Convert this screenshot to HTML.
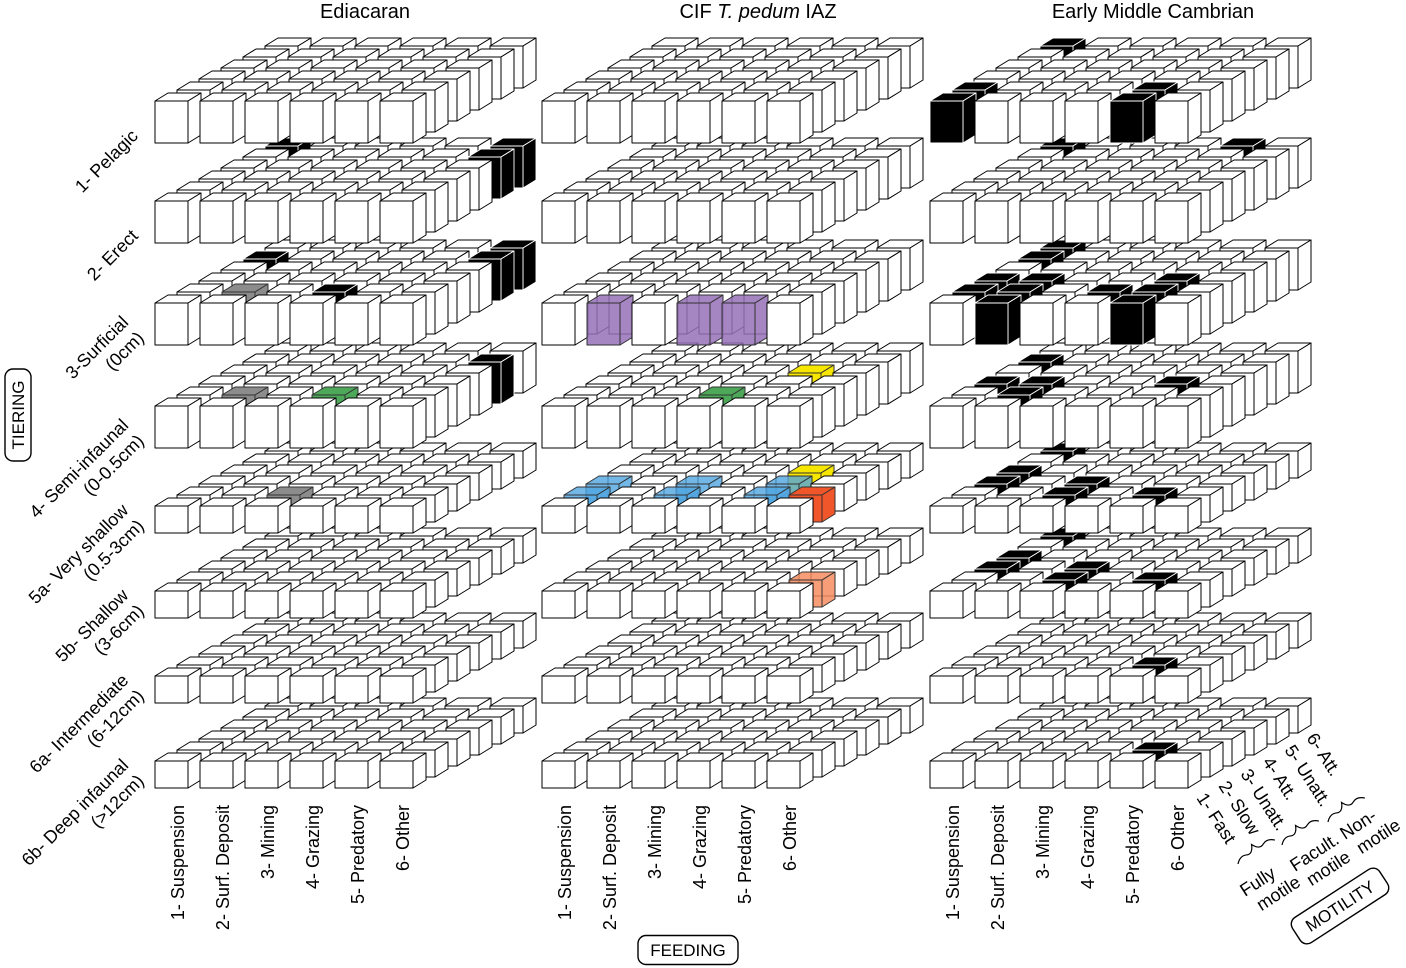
<!DOCTYPE html>
<html><head><meta charset="utf-8"><style>
html,body{margin:0;padding:0;background:#fff;}
svg{display:block;font-family:"Liberation Sans",sans-serif;}
</style></head><body>
<svg id="chart" width="1406" height="968" viewBox="0 0 1406 968" xmlns="http://www.w3.org/2000/svg">
<g id="cubes"></g>
<g id="labels"></g>
</svg>
<script>
const panelTitles = ["Ediacaran", "CIF T. pedum IAZ", "Early Middle Cambrian"];
const tierLabels = [["1- Pelagic"],["2- Erect"],["3-Surficial","(0cm)"],["4- Semi-infaunal","(0-0.5cm)"],["5a- Very shallow","(0.5-3cm)"],["5b- Shallow","(3-6cm)"],["6a- Intermediate","(6-12cm)"],["6b- Deep infaunal","(>12cm)"]];
const feedingLabels = ["1- Suspension","2- Surf. Deposit","3- Mining","4- Grazing","5- Predatory","6- Other"];
const motilityLabels = ["1- Fast","2- Slow","3- Unatt.","4- Att.","5- Unatt.","6- Att."];
// highlighted cells: [tierIndex, feedingIndex, motilityIndex, colour]
const ediacaranCells = [
 [1,0,5,"black"],[1,5,4,"black"],[1,5,5,"black"],
 [2,0,4,"black"],[2,1,1,"gray"],[2,3,1,"black"],[2,5,4,"black"],[2,5,5,"black"],
 [3,1,1,"gray"],[3,3,1,"green"],[3,5,4,"black"],
 [4,2,1,"gray"]];
const cifCells = [
 [2,1,0,"purple"],[2,3,0,"purple"],[2,4,0,"purple"],
 [3,4,3,"yellow"],[3,3,1,"green"],
 [4,0,1,"blue"],[4,0,2,"blue"],[4,2,1,"blue"],[4,2,2,"blue"],[4,4,1,"blue"],[4,4,2,"blue"],[4,4,3,"yellow"],[4,5,1,"red"],
 [5,5,1,"orange"]];
const cambrianCells = [
 [0,0,5,"black"],[0,0,0,"black"],[0,0,1,"black"],[0,4,0,"black"],[0,4,1,"black"],
 [1,0,5,"black"],[1,4,5,"black"],
 [2,0,5,"black"],[2,0,4,"black"],[2,0,2,"black"],[2,0,1,"black"],[2,1,2,"black"],[2,1,1,"black"],[2,1,0,"black"],[2,3,1,"black"],[2,4,1,"black"],[2,4,2,"black"],[2,4,0,"black"],
 [3,0,4,"black"],[3,0,2,"black"],[3,1,2,"black"],[3,1,1,"black"],[3,4,2,"black"],
 [4,0,5,"black"],[4,0,3,"black"],[4,0,2,"black"],[4,2,2,"black"],[4,2,1,"black"],[4,4,1,"black"],
 [5,0,5,"black"],[5,0,3,"black"],[5,0,2,"black"],[5,2,2,"black"],[5,2,1,"black"],[5,4,1,"black"],
 [6,4,1,"black"],[7,4,1,"black"]];
const panelCells = [ediacaranCells, cifCells, cambrianCells];

const NS = "http://www.w3.org/2000/svg";
const panelX = [155, 542, 930];
const tierBottom = [143, 243, 345, 448, 533, 618, 703, 788];
const tierH = [42, 42, 42, 42, 27, 27, 27, 27];
const colours = {black:"#000", gray:"#8c8c8c", green:"#4da85a", purple:"rgba(150,112,185,0.85)", yellow:"#f7e600", blue:"rgba(80,165,225,0.8)", red:"#f0562a", orange:"rgba(246,140,95,0.85)"};
const CW = 33, DX = 13, DY = -8, COLP = 45, ROWX = 22, ROWY = -11;
function xPos(p, c, d){ return panelX[p] + COLP*c + ROWX*d; }
function yPos(t, d){ return tierBottom[t] + ROWY*d; }
const cubesG = document.getElementById("cubes");
const labelsG = document.getElementById("labels");
function mk(tag, attrs, parent){ const e = document.createElementNS(NS, tag); for (const k in attrs) e.setAttribute(k, attrs[k]); parent.appendChild(e); return e; }

for (let p = 0; p < 3; p++) {
  const pg = mk("g", {}, cubesG);
  
  
  const lookup = {};
  panelCells[p].forEach(function(cell){ lookup[cell[0]+"_"+cell[1]+"_"+cell[2]] = cell[3]; });
  for (let t = 7; t >= 0; t--) {
    const tg = mk("g", {}, pg);
    
    
    const h = tierH[t];
    for (let d = 5; d >= 0; d--) {
      for (let c = 0; c < 6; c++) {
        const x = xPos(p, c, d), y = yPos(t, d);
        const col = lookup[t+"_"+c+"_"+d];
        const fill = col ? colours[col] : "#fff";
        const stroke = col === "black" ? "#fff" : (col ? "#333" : "#000");
        const g = mk("g", {fill: fill, stroke: stroke, "stroke-width": col === "black" ? 0.9 : 1, "stroke-linejoin": "round"}, tg);
        
        
        mk("polygon", {points: [x,y-h, x+DX,y-h+DY, x+CW+DX,y-h+DY, x+CW,y-h].join(" ")}, g);
        mk("polygon", {points: [x+CW,y-h, x+CW+DX,y-h+DY, x+CW+DX,y+DY, x+CW,y].join(" ")}, g);
        mk("rect", {x: x, y: y-h, width: CW, height: h}, g);
      }
    }
  }
}

// panel titles
const titleCx = [365, 758, 1153];
for (let p = 0; p < 3; p++) {
  const t = mk("text", {x: titleCx[p], y: 18, "font-size": 20, "text-anchor": "middle"}, labelsG);
  
  
  if (p === 1) {
    t.appendChild(document.createTextNode("CIF "));
    const it = mk("tspan", {"font-style": "italic"}, t); it.textContent = "T. pedum";
    t.appendChild(document.createTextNode(" IAZ"));
  } else t.textContent = panelTitles[p];
}

// tier labels
for (let i = 0; i < 8; i++) {
  const lines = tierLabels[i];
  const g = mk("g", {transform: "translate(" + (lines.length > 1 ? 145 : 139) + "," + (tierBottom[i] - 6) + ") rotate(-45)"}, labelsG);
  
  
  lines.forEach(function(s, k){
    const t = mk("text", {x: 0, y: (k - lines.length + 1) * 22, "font-size": 18, "text-anchor": "end"}, g);
    t.textContent = s;
  });
}

// feeding labels
for (let p = 0; p < 3; p++) {
  for (let c = 0; c < 6; c++) {
    const x = panelX[p] + 29 + COLP*c;
    const t = mk("text", {transform: "translate(" + x + ",805) rotate(-90)", "font-size": 18, "text-anchor": "end"}, labelsG);
    
    
    t.textContent = feedingLabels[c];
  }
}

// motility labels
for (let d = 0; d < 6; d++) {
  const x = 1196 + ROWX*d, y = 798 - 12*d;
  const t = mk("text", {transform: "translate(" + x + "," + y + ") rotate(57)", "font-size": 18}, labelsG);
  
  
  t.textContent = motilityLabels[d];
}

// motility groups
const groupText = [["Fully","motile"],["Facult.","motile"],["Non-","motile"]];
const groupPos = [[1245,897],[1295,872],[1345,840]];
const bracePos = [[1238,864],[1282,845],[1328,822]];
for (let i = 0; i < 3; i++) {
  const b = mk("path", {d: "M0,0 q6,-6 12,-3 q6,3 10,-6 q4,9 10,6 q6,-3 12,3", fill: "none", stroke: "#000", "stroke-width": 1.2, transform: "translate(" + bracePos[i][0] + "," + bracePos[i][1] + ") rotate(-33)"}, labelsG);
  
  
  const g = mk("g", {transform: "translate(" + groupPos[i][0] + "," + groupPos[i][1] + ") rotate(-33)"}, labelsG);
  
  
  groupText[i].forEach(function(s, k){
    const t = mk("text", {x: k*6, y: k*21, "font-size": 18}, g);
    t.textContent = s;
  });
}

// boxed axis titles
function boxLabel(name, cx, cy, w, h, rot, txt) {
  const g = mk("g", {transform: "translate(" + cx + "," + cy + ") rotate(" + rot + ")"}, labelsG);
  
  
  mk("rect", {x: -w/2, y: -h/2, width: w, height: h, rx: 8, fill: "#fff", stroke: "#000", "stroke-width": 1.4}, g);
  const t = mk("text", {x: 0, y: 6, "font-size": 17, "text-anchor": "middle"}, g);
  t.textContent = txt;
}
boxLabel("tiering-axis-title", 18, 415, 92, 26, -90, "TIERING");
boxLabel("feeding-axis-title", 688, 950, 100, 29, 0, "FEEDING");
boxLabel("motility-axis-title", 1340, 906, 104, 30, -33, "MOTILITY");
</script>
</body></html>
